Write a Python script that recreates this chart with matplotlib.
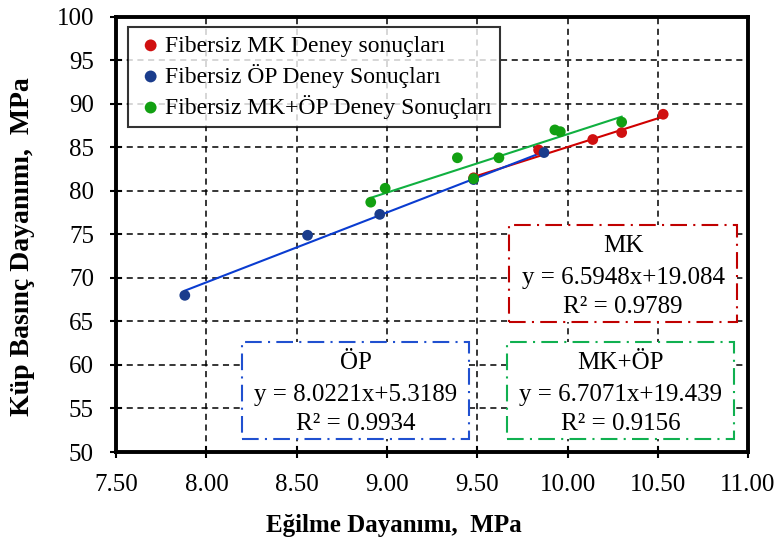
import numpy as np
import matplotlib
matplotlib.use("Agg")
import matplotlib.pyplot as plt
from matplotlib.patches import Rectangle

plt.rcParams['font.family'] = ['Liberation Serif', 'DejaVu Serif']

# Data
mk_x = [9.48, 9.84, 10.14, 10.30, 10.53]
mk_y = [81.5, 84.7, 85.9, 86.7, 88.8]
op_x = [7.88, 8.56, 8.96, 9.48, 9.87]
op_y = [68.0, 74.9, 77.3, 81.3, 84.4]
mkop_x = [8.91, 8.99, 9.39, 9.48, 9.62, 9.93, 9.96, 10.30]
mkop_y = [78.7, 80.3, 83.8, 81.4, 83.8, 87.0, 86.8, 87.9]

fit_slopes = [6.5948, 8.0221, 6.7071]
fit_intercepts = [19.084, 5.3189, 19.439]
fit_r2 = [0.9789, 0.9934, 0.9156]
fit_names = ["MK", "ÖP", "MK+ÖP"]

legend_labels = ["Fibersiz MK Deney sonuçları",
                 "Fibersiz ÖP Deney Sonuçları",
                 "Fibersiz MK+ÖP Deney Sonuçları"]
x_ticks = [7.5, 8.0, 8.5, 9.0, 9.5, 10.0, 10.5, 11.0]
y_ticks = [50, 55, 60, 65, 70, 75, 80, 85, 90, 95, 100]

marker_colors = ["#D01010", "#1A3C8C", "#12A012"]
line_colors = ["#D00000", "#0A3CD0", "#10B040"]
box_colors = ["#C00000", "#2050D0", "#10B050"]

fig = plt.figure(figsize=(7.8, 5.41), dpi=100)
ax = fig.add_axes([0.149, 0.1645, 0.810, 0.8045])

series = [(mk_x, mk_y), (op_x, op_y), (mkop_x, mkop_y)]
for i, (xs, ys) in enumerate(series):
    xx = np.array([min(xs), max(xs)])
    ax.plot(xx, fit_slopes[i] * xx + fit_intercepts[i], color=line_colors[i], lw=1.5, zorder=3)

handles = []
for i, (xs, ys) in enumerate(series):
    h = ax.scatter(xs, ys, s=60, color=marker_colors[i], edgecolors='none', zorder=4 + i,
                   label=legend_labels[i])
    handles.append(h)

ax.set_xlim(7.5, 11.0)
ax.set_ylim(50, 100)
ax.set_xticks(x_ticks)
ax.set_yticks(y_ticks)
ax.set_xticklabels([f"{v:.2f}" for v in x_ticks])
ax.tick_params(axis='y', direction='inout', length=8, width=1.5, labelsize=18, pad=12)
ax.tick_params(axis='x', direction='inout', length=8, width=1.5, labelsize=18, pad=12)
ax.grid(True, color='black', linestyle=(0, (4, 3)), linewidth=1.1)
ax.set_axisbelow(True)
for sp in ax.spines.values():
    sp.set_linewidth(2.8)

ax.set_xlabel("Eğilme Dayanımı,  MPa", fontsize=18, fontweight='bold')
ax.xaxis.set_label_coords(0.440, -0.142)
ax.set_ylabel("Küp Basınç Dayanımı,  MPa", fontsize=20, fontweight='bold')
ax.yaxis.set_label_coords(-0.128, 0.471)

leg = ax.legend(handles=handles, loc='upper left', bbox_to_anchor=(0.019, 0.977),
                fontsize=17, frameon=True, fancybox=False, edgecolor='black',
                handletextpad=0.0, borderpad=0.35, labelspacing=0.3, handlelength=1.2,
                markerscale=1.1, scatterpoints=1, borderaxespad=0.0)
leg.get_frame().set_linewidth(1.5)

boxes = [(0.622, 0.299, 0.361, 0.223),
         (0.199, 0.030, 0.360, 0.223),
         (0.619, 0.030, 0.359, 0.223)]
for i, (bx, by, bw, bh) in enumerate(boxes):
    rect = Rectangle((bx, by), bw, bh, transform=ax.transAxes, facecolor='white',
                     edgecolor=box_colors[i], linestyle=(0, (8, 3, 1, 3)), linewidth=1.5, zorder=6)
    ax.add_patch(rect)
    cx = bx + bw / 2
    lines = [fit_names[i],
             f"y = {fit_slopes[i]}x+{fit_intercepts[i]}",
             f"R² = {fit_r2[i]}"]
    offs = [0.78, 0.45, 0.15]
    for j, t in enumerate(lines):
        ax.text(cx, by + bh * offs[j], t, transform=ax.transAxes, ha='center', va='center',
                fontsize=18, zorder=7)

fig.savefig("out.png", dpi=100)
